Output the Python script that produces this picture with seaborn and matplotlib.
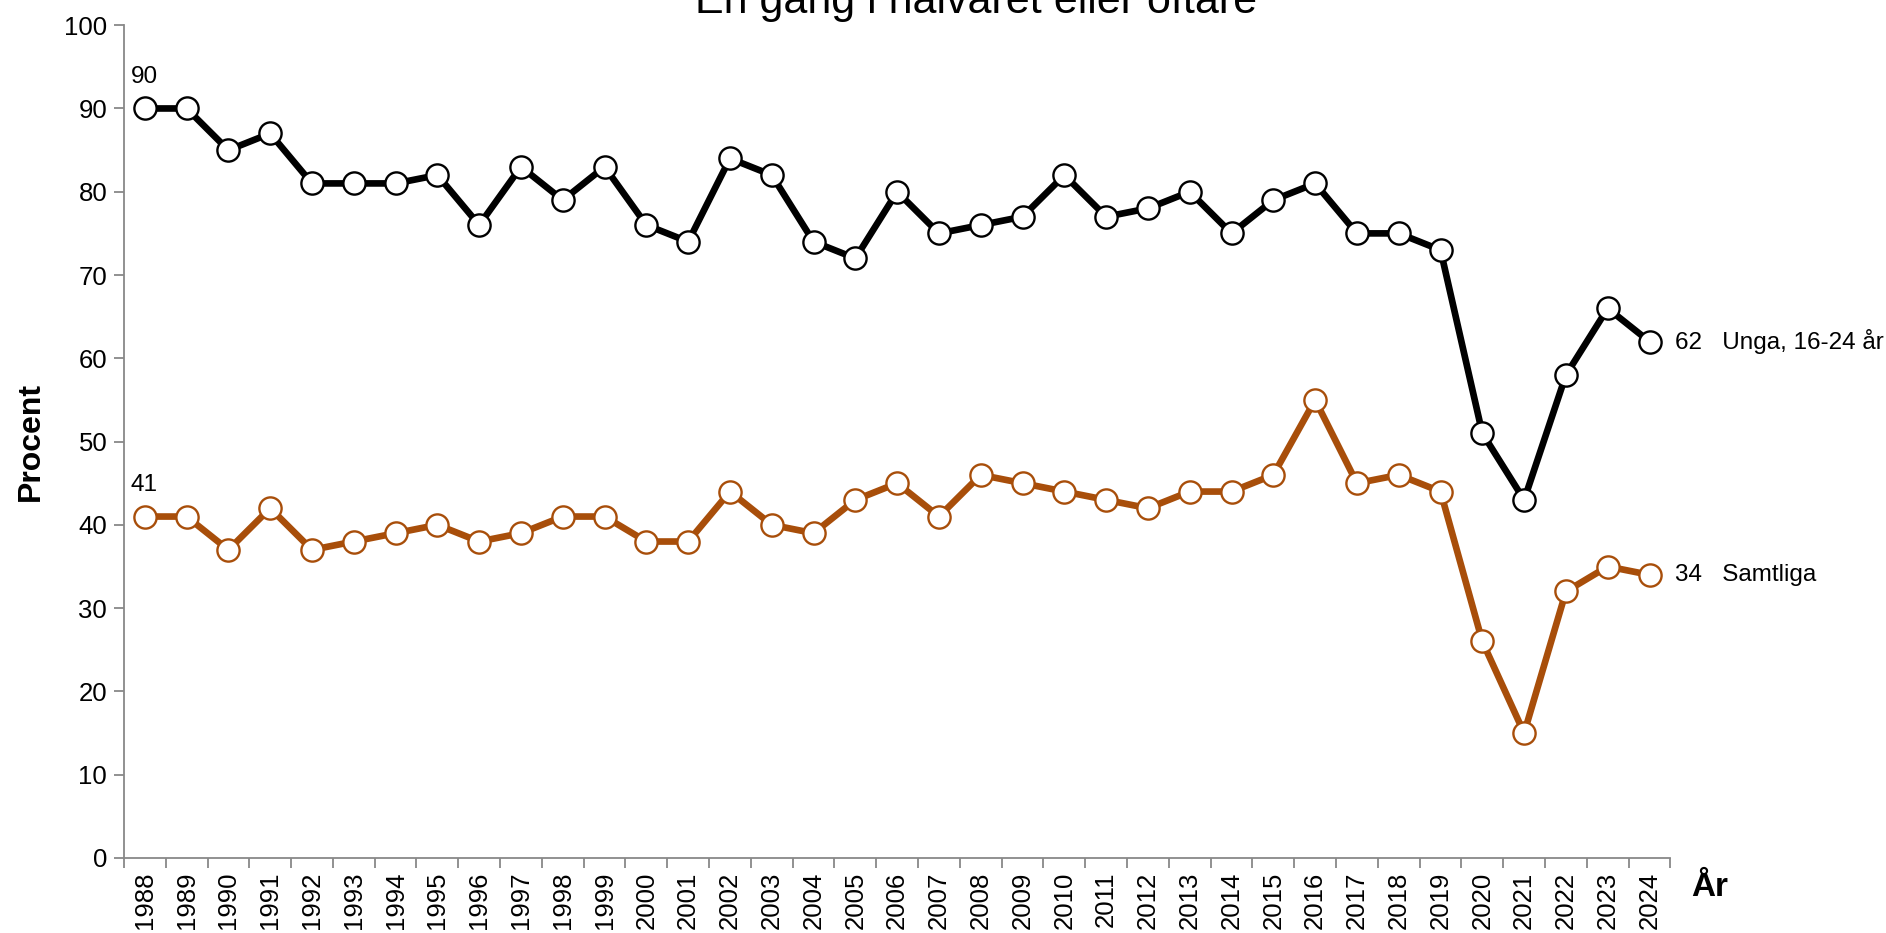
import pandas as pd
import numpy as np
import seaborn as sns
import matplotlib.pyplot as plt

years = list(range(1988, 2025))
unga = [90, 90, 85, 87, 81, 81, 81, 82, 76, 83, 79, 83, 76, 74, 84, 82, 74, 72, 80, 75,
        76, 77, 82, 77, 78, 80, 75, 79, 81, 75, 75, 73, 51, 43, 58, 66, 62]
samtliga = [41, 41, 37, 42, 37, 38, 39, 40, 38, 39, 41, 41, 38, 38, 44, 40, 39, 43, 45, 41,
            46, 45, 44, 43, 42, 44, 44, 46, 55, 45, 46, 44, 26, 15, 32, 35, 34]
series_names = ["Unga, 16-24 år", "Samtliga"]
colors = ["#000000", "#A84E0A"]

df = pd.DataFrame({
    "pos": list(range(len(years))) * 2,
    "value": unga + samtliga,
    "serie": [series_names[0]] * len(years) + [series_names[1]] * len(years),
})

sns.set_style("ticks")
plt.rcParams["font.family"] = ["Liberation Sans", "DejaVu Sans"]
plt.rcParams["text.color"] = "black"
plt.rcParams["axes.labelcolor"] = "black"
plt.rcParams["xtick.labelcolor"] = "black"
plt.rcParams["ytick.labelcolor"] = "black"

fig = plt.figure(figsize=(18.86, 9.33), dpi=100)
ax = fig.add_axes([0.0657, 0.0804, 0.82, 0.8926])

sns.lineplot(data=df, x="pos", y="value", hue="serie", palette=colors,
             marker="o", markersize=16, markerfacecolor="white",
             markeredgewidth=1.7, linewidth=4.8, legend=False, ax=ax)
# marker edges in the line colour
for line, c in zip(ax.get_lines(), colors):
    line.set_markeredgecolor(c)

ax.set_xlim(-0.5, len(years) - 0.5)
ax.set_ylim(0, 100)
ax.set_yticks(range(0, 101, 10))
ax.set_xticks(range(len(years)))
ax.set_xticklabels([str(y) for y in years], rotation=90)
ax.set_xticks(np.arange(-0.5, len(years), 1), minor=True)
ax.tick_params(axis="x", which="major", length=0, labelsize=18.5, pad=10)
ax.tick_params(axis="x", which="minor", length=7, color="#888888", width=1.3)
ax.tick_params(axis="y", length=7, color="#888888", width=1.3, labelsize=18.5, pad=5)
for s in ["top", "right"]:
    ax.spines[s].set_visible(False)
for s in ["left", "bottom"]:
    ax.spines[s].set_color("#888888")
    ax.spines[s].set_linewidth(1.3)

ax.set_xlabel("")
ax.set_ylabel("Procent", fontsize=23, fontweight="bold", labelpad=13)
fig.text(1710 / 1886, 1 - 888 / 933, "År", fontsize=24, fontweight="bold",
         ha="center", va="center")

# first-value labels
for vals in [unga, samtliga]:
    ax.annotate(str(vals[0]), (0, vals[0]), xytext=(-10, 15), textcoords="offset points",
                ha="left", va="bottom", fontsize=17.5)
# end labels
for vals, name in zip([unga, samtliga], series_names):
    ax.annotate(f"{vals[-1]}   {name}", (len(years) - 1, vals[-1]), xytext=(18, 0),
                textcoords="offset points", ha="left", va="center", fontsize=17.5,
                annotation_clip=False)

fig.text(0.5175, 0.986, "En gång i halvåret eller oftare", fontsize=31,
         ha="center", va="baseline")

fig.savefig("out.png", dpi=100)
